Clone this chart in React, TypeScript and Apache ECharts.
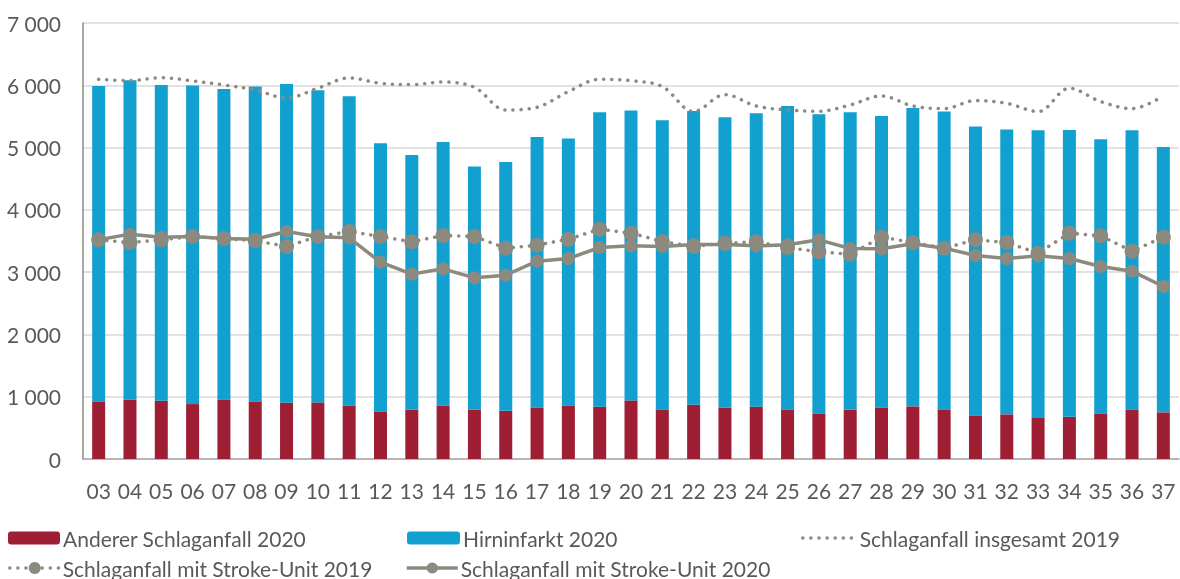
import React, { useEffect, useRef } from "react";
import * as echarts from "echarts";

const weeks = ["03","04","05","06","07","08","09","10","11","12","13","14","15","16","17","18","19","20","21","22","23","24","25","26","27","28","29","30","31","32","33","34","35","36","37"];

const totals2020 = [5990,6080,6005,5995,5941,5979,6021,5920,5824,5070,4882,5091,4695,4770,5171,5144,5567,5594,5439,5588,5487,5551,5668,5535,5567,5508,5636,5578,5337,5289,5278,5283,5134,5278,5011];

const anderer2020 = [925,957,936,882,957,925,904,909,861,765,791,861,791,775,829,861,840,941,797,872,824,840,797,733,791,829,845,797,701,717,658,679,733,797,749];

const hirninfarkt2020 = totals2020.map((t, i) => t - anderer2020[i]);

const insgesamt2019 = [6096,6075,6123,6070,6005,5925,5797,5952,6118,6032,6011,6053,5968,5604,5647,5898,6096,6075,5979,5578,5850,5668,5604,5583,5684,5829,5668,5626,5754,5711,5578,5952,5738,5626,5829];

const strokeUnit2019 = [3519,3476,3519,3572,3540,3503,3412,3572,3652,3572,3487,3588,3572,3385,3433,3529,3690,3626,3492,3412,3465,3487,3395,3326,3289,3561,3476,3385,3519,3476,3305,3626,3583,3337,3561];

const strokeUnit2020 = [3519,3610,3561,3572,3540,3529,3652,3567,3551,3160,2968,3053,2909,2952,3176,3219,3396,3422,3412,3444,3444,3422,3439,3519,3380,3374,3455,3385,3267,3219,3262,3219,3091,3016,2770];

const RED = "#9E1F33";
const BLUE = "#12A0D0";
const GREY = "#8C8A7E";
const TEXT = "#595959";
const FONT = "Lato";
const FS = 21;

export default function App() {
  const ref = useRef<HTMLDivElement>(null);
  useEffect(() => {
    if (!ref.current) return;
    const chart = echarts.init(ref.current, null, { renderer: "svg" });
    const legendText = { color: TEXT, fontSize: FS, fontFamily: FONT, lineHeight: 22, padding: [0, 0, 0, -2] };
    const base = { itemHeight: 13, selectedMode: false, padding: 0, textStyle: legendText };
    const dotted = { color: GREY, width: 3.5, type: [0.1, 8], cap: "round" };
    const solid = { color: GREY, width: 3.5, type: "solid" };
    chart.setOption({
      animation: false,
      grid: { left: 83, right: 1, top: 23, bottom: 120, containLabel: false },
      legend: [
        { ...base, data: ["Anderer Schlaganfall 2020"], left: 8, top: 527, itemWidth: 52 },
        { ...base, data: ["Hirninfarkt 2020"], left: 407, top: 527, itemWidth: 53 },
        { ...base, data: ["Schlaganfall insgesamt 2019"], left: 801, top: 527, itemWidth: 54, itemStyle: { opacity: 0 }, lineStyle: dotted },
        { ...base, data: ["Schlaganfall mit Stroke-Unit 2019"], left: 8, top: 557, itemWidth: 50, itemHeight: 15, lineStyle: dotted },
        { ...base, data: ["Schlaganfall mit Stroke-Unit 2020"], left: 405, top: 557, itemWidth: 51, itemHeight: 14, lineStyle: solid },
      ],
      xAxis: {
        type: "category",
        data: weeks,
        axisTick: { show: false },
        axisLine: { lineStyle: { color: "#A6A6A6", width: 1.5 } },
        axisLabel: { color: TEXT, fontSize: FS, fontFamily: FONT, margin: 21, interval: 0 },
      },
      yAxis: {
        type: "value",
        min: 0,
        max: 7000,
        interval: 1000,
        axisLine: { show: true, lineStyle: { color: "#8C8A7E", width: 1.5 } },
        axisTick: { show: false },
        splitLine: { lineStyle: { color: "#D9D9D9", width: 1.5 } },
        axisLabel: {
          color: TEXT,
          fontSize: FS,
          fontFamily: FONT,
          margin: 22,
          formatter: (v: number) => (v >= 1000 ? `${Math.floor(v / 1000)} ${String(v % 1000).padStart(3, "0")}` : String(v)),
        },
      },
      series: [
        {
          name: "Anderer Schlaganfall 2020",
          type: "bar",
          stack: "a",
          data: anderer2020,
          barWidth: 13,
          itemStyle: { color: RED },
        },
        {
          name: "Hirninfarkt 2020",
          type: "bar",
          stack: "a",
          data: hirninfarkt2020,
          barWidth: 13,
          itemStyle: { color: BLUE },
        },
        {
          name: "Schlaganfall insgesamt 2019",
          type: "line",
          data: insgesamt2019,
          smooth: 0.35,
          showSymbol: false,
          symbol: "none",
          lineStyle: dotted,
          itemStyle: { color: GREY },
          z: 3,
        },
        {
          name: "Schlaganfall mit Stroke-Unit 2019",
          type: "line",
          data: strokeUnit2019,
          symbol: "circle",
          symbolSize: 15,
          lineStyle: dotted,
          itemStyle: { color: GREY },
          z: 4,
        },
        {
          name: "Schlaganfall mit Stroke-Unit 2020",
          type: "line",
          data: strokeUnit2020,
          symbol: "circle",
          symbolSize: 13,
          lineStyle: solid,
          itemStyle: { color: GREY },
          z: 5,
        },
      ],
    });
    return () => chart.dispose();
  }, []);
  return <div ref={ref} style={{ position: "fixed", left: 0, top: 0, width: 1180, height: 579 }} />;
}
